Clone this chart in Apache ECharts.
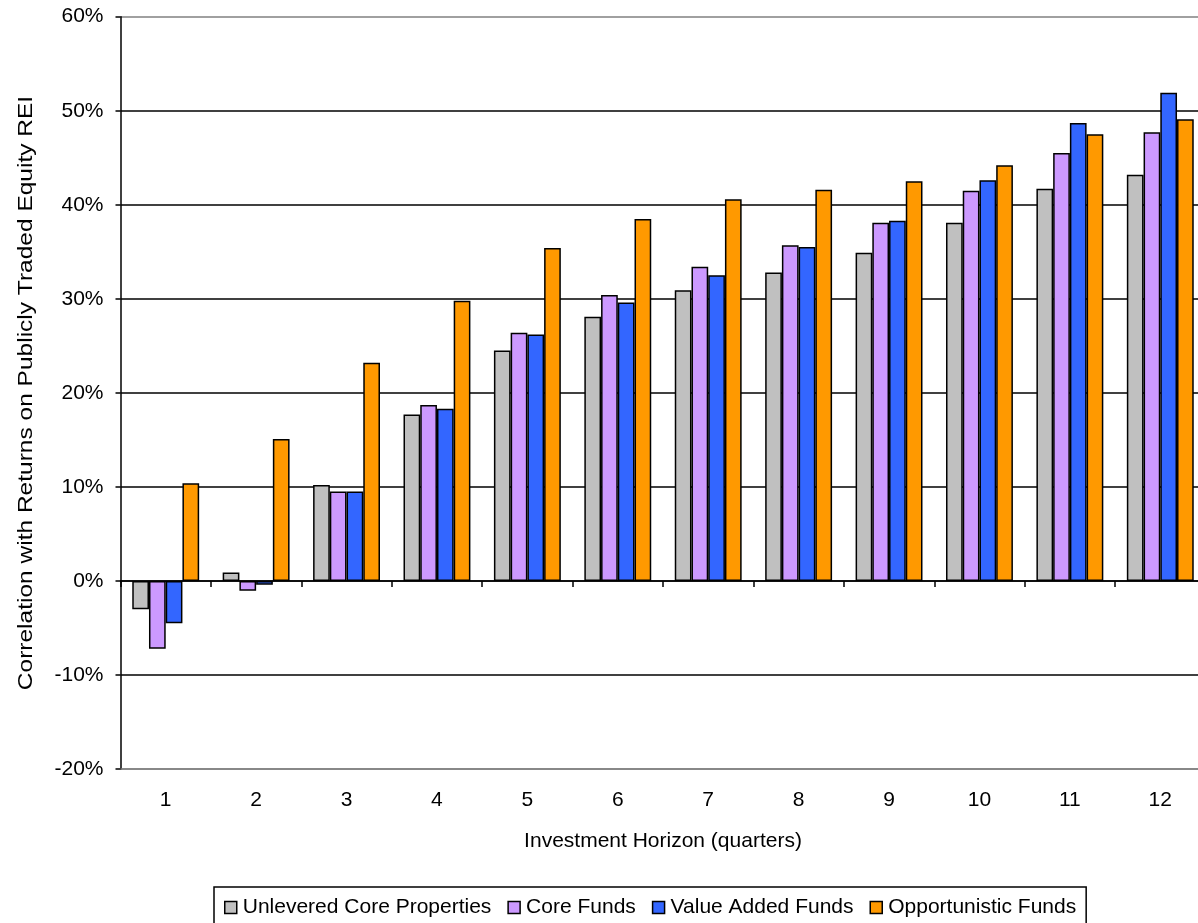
<!DOCTYPE html>
<html>
<head>
<meta charset="utf-8">
<title>Correlation with Public REIT Returns by Investment Horizon</title>
<script src="https://cdn.jsdelivr.net/npm/echarts@6/dist/echarts.min.js"></script>
<style>
  html, body { margin: 0; padding: 0; background: #fff; }
  #chart { width: 1198px; height: 923px; }
</style>
</head>
<body>
<div id="chart"></div>
<script>
// Investment horizon in quarters
const horizons = ['1', '2', '3', '4', '5', '6', '7', '8', '9', '10', '11', '12'];

// Correlation with returns on publicly traded equity REITs, in percent
const unleveredCore = [-3.0, 0.9, 10.2, 17.7, 24.5, 28.1, 30.9, 32.8, 34.9, 38.1, 41.7, 43.2];
const coreFunds = [-7.2, -1.05, 9.5, 18.7, 26.4, 30.4, 33.4, 35.7, 38.1, 41.5, 45.5, 47.7];
const valueAdded = [-4.5, -0.4, 9.5, 18.3, 26.2, 29.6, 32.5, 35.5, 38.3, 42.6, 48.7, 51.9];
const opportunistic = [10.4, 15.1, 23.2, 29.8, 35.4, 38.5, 40.6, 41.6, 42.5, 44.2, 47.5, 49.1];

const seriesNames = ['Unlevered Core Properties', 'Core Funds', 'Value Added Funds', 'Opportunistic Funds'];
const seriesColors = ['#C0C0C0', '#CC99FF', '#3366FF', '#FF9900'];
const seriesValues = [unleveredCore, coreFunds, valueAdded, opportunistic];

const yTitle = 'Correlation with Returns on Publicly Traded Equity REI';

const FONT = 'Liberation Sans, Arial, sans-serif';

const chart = echarts.init(document.getElementById('chart'), null, { renderer: 'canvas' });

// outer frame lines (top/bottom) are grey, inner gridlines black
const gridLineColors = ['#808080', '#000', '#000', '#000', '#000', '#000', '#000', '#000', '#808080'];

chart.setOption({
  animation: false,
  backgroundColor: '#fff',
  textStyle: { fontFamily: FONT, color: '#000' },
  grid: {
    left: 120.5,
    width: 1085,
    top: 16.7,
    bottom: 154,
    containLabel: false,
    outerBoundsMode: 'none'
  },
  graphic: [
    {
      type: 'text',
      x: 26,
      y: 393,
      rotation: Math.PI / 2,
      scaleX: 1.167,
      style: {
        text: yTitle,
        font: '21px ' + FONT,
        fill: '#000',
        textAlign: 'center',
        textVerticalAlign: 'middle'
      }
    }
  ],
  legend: {
    data: seriesNames,
    left: 214,
    top: 887,
    orient: 'horizontal',
    icon: 'rect',
    itemWidth: 12,
    itemHeight: 12,
    itemGap: 16,
    padding: [10, 10, 10, 10],
    borderColor: '#000',
    borderWidth: 1.5,
    itemStyle: { borderColor: '#000', borderWidth: 1.5 },
    textStyle: { fontFamily: FONT, fontSize: 21, color: '#000', padding: [0, 0, 0, 1] }
  },
  xAxis: [
    {
      type: 'category',
      data: horizons,
      position: 'bottom',
      name: 'Investment Horizon (quarters)',
      nameLocation: 'middle',
      nameGap: 62,
      nameTextStyle: { fontFamily: FONT, fontSize: 21, color: '#000' },
      axisLine: { onZero: false, lineStyle: { color: '#808080', width: 1.5 } },
      axisTick: { show: false },
      axisLabel: { fontFamily: FONT, fontSize: 21, color: '#000', margin: 21 },
      splitLine: { show: false }
    },
    {
      // zero baseline with category tick marks
      type: 'category',
      data: horizons,
      position: 'top',
      axisLine: { show: true, onZero: true, lineStyle: { color: '#000', width: 1.5 } },
      axisTick: { show: true, inside: true, length: 6, lineStyle: { color: '#000', width: 1.5 } },
      axisLabel: { show: false },
      splitLine: { show: false }
    }
  ],
  yAxis: {
    type: 'value',
    min: -20,
    max: 60,
    interval: 10,
    axisLine: { show: true, lineStyle: { color: '#000', width: 1.5 } },
    axisTick: { show: true, inside: false, length: 5, lineStyle: { color: '#000', width: 1.5 } },
    axisLabel: { formatter: '{value}%', fontFamily: FONT, fontSize: 21, color: '#000', margin: 17 },
    splitLine: { show: true, lineStyle: { color: gridLineColors, width: 1.5 } }
  },
  series: seriesNames.map((name, i) => ({
    name: name,
    type: 'bar',
    xAxisIndex: 0,
    data: seriesValues[i],
    barGap: '0%',
    barCategoryGap: '26%',
    itemStyle: { color: seriesColors[i], borderColor: '#000', borderWidth: 1.5 }
  }))
});
</script>
</body>
</html>
